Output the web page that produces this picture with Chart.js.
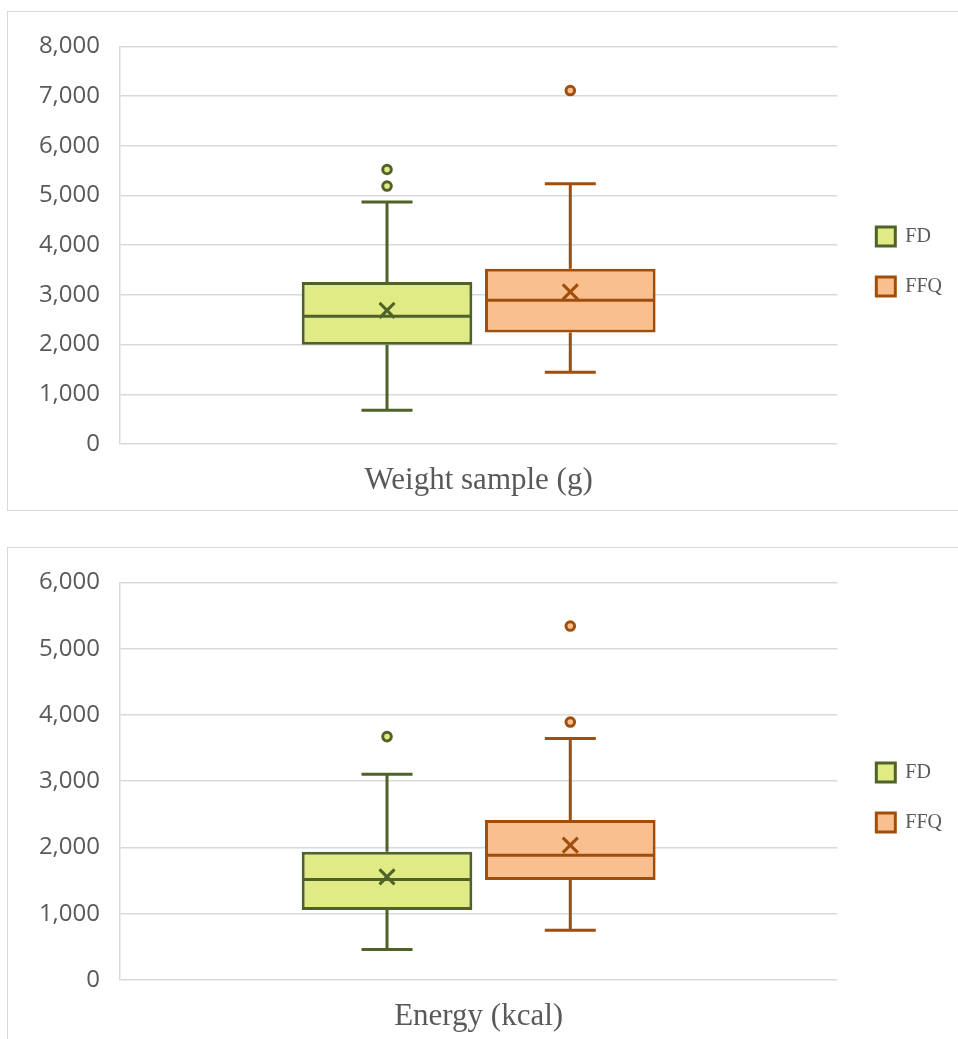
<!DOCTYPE html>
<html>
<head>
<meta charset="utf-8">
<script src="https://cdn.jsdelivr.net/npm/chart.js@4.4.1/dist/chart.umd.min.js"></script>
<style>
  body { margin: 0; background: #fff; }
  .frame { position: absolute; left: 7px; width: 958px; height: 498px; border: 1px solid #d9d9d9; }
  #frame1 { top: 11px; }
  #frame2 { top: 547px; }
</style>
</head>
<body>
<div class="frame" id="frame1"><canvas id="weightChart"></canvas></div>
<div class="frame" id="frame2"><canvas id="energyChart"></canvas></div>
<script>
// series order: FD, FFQ
const seriesNames = ['FD', 'FFQ'];

const weightCategory = ['Weight sample (g)'];
const weightMin = [679, 1443];
const weightQ1 = [1996, 2242];
const weightMedian = [2569, 2894];
const weightQ3 = [3260, 3527];
const weightMax = [4870, 5236];
const weightMean = [2689, 3060];
const weightOutliers = [[5190, 5523], [7112]];
const weightYMax = 8000;

const energyCategory = ['Energy (kcal)'];
const energyMin = [460, 749];
const energyQ1 = [1058, 1508];
const energyMedian = [1517, 1882];
const energyQ3 = [1936, 2415];
const energyMax = [3104, 3643];
const energyMean = [1557, 2036];
const energyOutliers = [[3673], [3893, 5341]];
const energyYMax = 6000;

const yStep = 1000;

const fills = ['#e0eb86', '#f9bf8f'];
const strokes = ['#4f6228', '#a04e0b'];
const grey = '#595959';
const gridGrey = '#d9d9d9';

// whiskers, median, mean and outliers on top of the floating bars
const boxExtras = {
    id: 'boxExtras',
    afterLayout(chart) {
        chart.legend.top -= 9;
        chart.legend.bottom -= 9;
    },
    afterDatasetsDraw(chart) {
        const ctx = chart.ctx;
        const y = chart.scales.y;
        chart.data.datasets.forEach((ds, i) => {
            const bar = chart.getDatasetMeta(i).data[0];
            const x = bar.x;
            const half = bar.width / 2;
            const pQ1 = y.getPixelForValue(ds.data[0][0]);
            const pQ3 = y.getPixelForValue(ds.data[0][1]);
            const pMin = y.getPixelForValue(ds.whiskerLow);
            const pMax = y.getPixelForValue(ds.whiskerHigh);
            const pMed = y.getPixelForValue(ds.median);
            const pMean = y.getPixelForValue(ds.mean);
            ctx.save();
            ctx.strokeStyle = ds.borderColor;
            ctx.lineWidth = 3;
            ctx.lineCap = 'butt';
            ctx.beginPath();
            // whiskers
            ctx.moveTo(x, pQ3); ctx.lineTo(x, pMax);
            ctx.moveTo(x - 25.5, pMax); ctx.lineTo(x + 25.5, pMax);
            ctx.moveTo(x, pQ1); ctx.lineTo(x, pMin);
            ctx.moveTo(x - 25.5, pMin); ctx.lineTo(x + 25.5, pMin);
            // median
            ctx.moveTo(x - half + 1.5, pMed); ctx.lineTo(x + half - 1.5, pMed);
            // mean marker
            ctx.moveTo(x - 7.5, pMean - 7.5); ctx.lineTo(x + 7.5, pMean + 7.5);
            ctx.moveTo(x + 7.5, pMean - 7.5); ctx.lineTo(x - 7.5, pMean + 7.5);
            ctx.stroke();
            // outliers
            ctx.lineWidth = 3;
            ctx.fillStyle = ds.backgroundColor;
            ds.outliers.forEach(v => {
                ctx.beginPath();
                ctx.arc(x, y.getPixelForValue(v), 4.3, 0, Math.PI * 2);
                ctx.fill();
                ctx.stroke();
            });
            ctx.restore();
        });
    }
};

function makeBoxChart(canvasId, category, q1, q3, lo, hi, med, mean, outl, yMax) {
    const datasets = seriesNames.map((name, i) => ({
        label: name,
        data: [[q1[i], q3[i]]],
        whiskerLow: lo[i],
        whiskerHigh: hi[i],
        median: med[i],
        mean: mean[i],
        outliers: outl[i],
        backgroundColor: fills[i],
        borderColor: strokes[i],
        borderWidth: 3,
        borderSkipped: false,
        categoryPercentage: 0.511,
        barPercentage: 0.931,
        yAxisID: 'y'
    }));
    return new Chart(document.getElementById(canvasId).getContext('2d'), {
        type: 'bar',
        data: { labels: category, datasets: datasets },
        plugins: [boxExtras],
        options: {
            responsive: true,
            maintainAspectRatio: false,
            animation: false,
            layout: { padding: { top: 31, bottom: 12, left: 0, right: 14 } },
            plugins: {
                tooltip: { enabled: false },
                legend: {
                    position: 'right',
                    align: 'center',
                    labels: {
                        boxWidth: 19,
                        boxHeight: 19,
                        padding: 30,
                        color: grey,
                        font: { family: 'Liberation Serif', size: 20 }
                    }
                }
            },
            scales: {
                x: {
                    grid: { display: false, drawTicks: false },
                    border: { display: false },
                    ticks: {
                        padding: 18,
                        color: grey,
                        font: { family: 'Liberation Serif', size: 31 }
                    },
                    afterFit: s => { s.height = 54; }
                },
                y: {
                    min: 0,
                    max: yMax,
                    grid: { color: gridGrey, lineWidth: 1.5, drawTicks: false },
                    border: { display: true, color: gridGrey, width: 1.5 },
                    ticks: {
                        stepSize: yStep,
                        padding: 20,
                        color: grey,
                        font: { family: 'Open Sans', size: 24 },
                        callback: v => v.toLocaleString('en-US')
                    },
                    afterFit: s => { s.width = 112; }
                },
                pad: {
                    type: 'linear',
                    position: 'right',
                    grid: { display: false },
                    border: { display: false },
                    ticks: { display: false },
                    afterFit: s => { s.width = 9; }
                }
            }
        }
    });
}

makeBoxChart('weightChart', weightCategory, weightQ1, weightQ3, weightMin, weightMax,
    weightMedian, weightMean, weightOutliers, weightYMax);
makeBoxChart('energyChart', energyCategory, energyQ1, energyQ3, energyMin, energyMax,
    energyMedian, energyMean, energyOutliers, energyYMax);
</script>
</body>
</html>
